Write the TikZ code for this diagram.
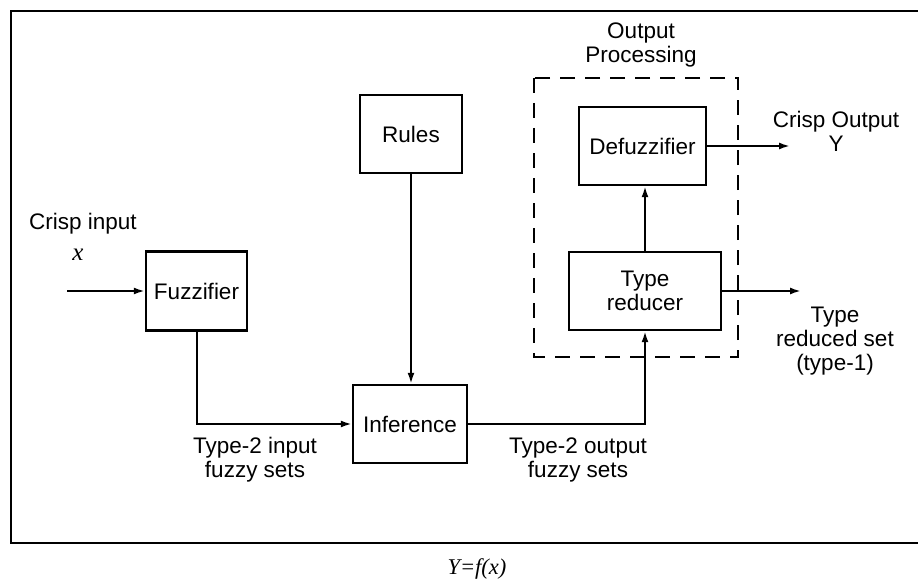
\documentclass[tikz,border=0pt]{standalone}
\usepackage{fontspec}
\setmainfont{Liberation Sans}
\newfontfamily\timesfont{Liberation Serif}
\usepackage{tikz}
\usetikzlibrary{arrows.meta}
\usetikzlibrary{positioning}
\tikzset{blk/.style = {draw, line width=2.4pt, inner sep=0, align=center}}
\tikzset{lbl/.style = {align=center, inner sep=0}}
\tikzset{wire/.style = {line width=2pt}}
\tikzset{arr/.style = {wire, -{Latex[length=11pt, width=7pt]}}}

\begin{document}
\begin{tikzpicture}[x=1pt, y=-1pt, font=\fontsize{22.5}{24}\selectfont]
          \useasboundingbox (0,0) rectangle (918,583);
          \draw [line width=2.6pt] (920,11) -- (11,11) -- (11,543) -- (920,543);

          \node [blk, minimum width=101, minimum height=79] (fuzz) at (196.5,291) {Fuzzifier};
          \node [blk, minimum width=102, minimum height=78] (rules) at (411,134) {Rules};
          \node [blk, minimum width=114, minimum height=78] (inf) at (410,424) {Inference};
          \node [blk, minimum width=152, minimum height=78] (tred) at (645,291) {Type\\reducer};
          \node [blk, minimum width=127, minimum height=78] (defuzz) at (642.5,146) {Defuzzifier};
          \draw [line width=1.5pt, dash pattern=on 15pt off 10pt] (534,78) rectangle (738,357);

          \coordinate (xin) at (67,291);
          \coordinate (yout) at (790,146);
          \coordinate (setout) at (801,291);

          \draw [arr] (xin) -- (fuzz.west);
          \draw [arr] (fuzz.south) |- (inf.west);
          \draw [arr] (rules.south) -- (rules.south |- inf.north);
          \draw [arr] (inf.east) -| (tred.south);
          \draw [arr] (tred.north) -- (tred.north |- defuzz.south);
          \draw [arr] (defuzz.east) -- (yout);
          \draw [arr] (tred.east) -- (setout);

          \node [lbl] (crispin) at (83,224) {Crisp input};
          \node [lbl] (xvar) at (78,255) {\timesfont\itshape\fontsize{25}{25}\selectfont x};
          \node [lbl] (outproc) at (641,45) {Output\\Processing};
          \node [lbl] (crispout) at (836,131) {Crisp Output\\Y};
          \node [lbl] (redset) at (835,341) {Type\\reduced set\\(type-1)};
          \node [lbl] (t2in) at (255,460) {Type-2 input\\fuzzy sets};
          \node [lbl] (t2out) at (578,460) {Type-2 output\\fuzzy sets};
          \node [lbl] (yfx) at (477,569) {\timesfont\itshape Y=f(x)};
        \end{tikzpicture}
\end{document}
